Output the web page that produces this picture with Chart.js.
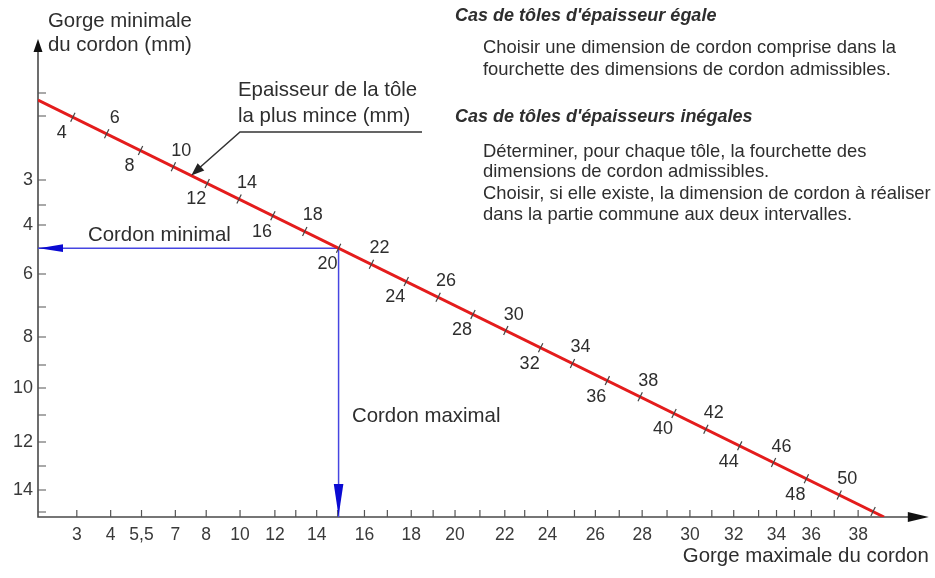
<!DOCTYPE html>
<html lang="fr">
<head>
<meta charset="UTF-8">
<title>Dimension des cordons de soudure</title>
<script src="https://cdn.jsdelivr.net/npm/chart.js@4"></script>
<style>
  html, body { margin: 0; padding: 0; background: #fff; }
  #cadre { width: 935px; height: 578px; }
</style>
</head>
<body>
<div id="cadre"><canvas id="abaque"></canvas></div>
<script>
// Graduations de l'axe horizontal (gorge maximale) : position et libellé
const gorgeMaxPos = [39, 73, 104, 138, 169, 203, 238, 259, 280, 301, 328, 351, 375, 397, 419, 444, 469, 489, 512, 539, 560, 584, 607, 632, 655, 677, 699, 724, 742, 760, 777, 800, 824];
const gorgeMaxLabels = ["3", "4", "5,5", "7", "8", "10", "12", "", "14", "", "16", "", "18", "", "20", "", "22", "", "24", "", "26", "", "28", "", "30", "", "32", "", "34", "", "36", "", "38"];

// Graduations de l'axe vertical (gorge minimale)
const gorgeMinPos = [424, 401, 337, 312, 292, 269, 243, 210, 180, 152, 129, 102, 75, 51, 27, 5];
const gorgeMinLabels = ["", "", "3", "", "4", "", "6", "", "8", "", "10", "", "12", "", "14", ""];

// Échelle des épaisseurs de tôle portée sur la droite
const epaisseurs = [4, 6, 8, 10, 12, 14, 16, 18, 20, 22, 24, 26, 28, 30, 32, 34, 36, 38, 40, 42, 44, 46, 48, 50, 52];
const epaisseurPos = [35, 69, 103, 136, 170, 202, 236, 268, 302, 335, 370, 402, 437, 470, 505, 537, 572, 605, 639, 671, 705, 739, 772, 805, 839];
const epaisseurLabels = ["4", "6", "8", "10", "12", "14", "16", "18", "20", "22", "24", "26", "28", "30", "32", "34", "36", "38", "40", "42", "44", "46", "48", "50", ""];

// Extrémités de la droite des épaisseurs
const droite = [{x: 0, y: 417}, {x: 850, y: 0}];

// Épaisseur prise en exemple (tracé bleu)
const epaisseurExemple = 20;

function surDroite(x) {
  const [a, b] = droite;
  return a.y + (b.y - a.y) * (x - a.x) / (b.x - a.x);
}

const pointsEpaisseur = epaisseurPos.map((x, i) => ({x: x, y: surDroite(x)}));
const exemple = pointsEpaisseur[epaisseurs.indexOf(epaisseurExemple)];

const TEXTE = '#2e2e2e';
const BLEU = 'rgb(70, 70, 225)';
const POLICE = '"Liberation Sans", Arial, sans-serif';

function fleche(ctx, fx, fy, tx, ty, long, demi, couleur) {
  const ang = Math.atan2(ty - fy, tx - fx);
  ctx.save();
  ctx.translate(tx, ty);
  ctx.rotate(ang);
  ctx.fillStyle = couleur;
  ctx.beginPath();
  ctx.moveTo(0, 0);
  ctx.lineTo(-long, -demi);
  ctx.lineTo(-long, demi);
  ctx.closePath();
  ctx.fill();
  ctx.restore();
}

const habillage = {
  id: 'habillage',
  beforeDatasetsDraw(chart) {
    const {ctx, chartArea, scales: {x, y}} = chart;
    const x0 = x.getPixelForValue(0), y0 = y.getPixelForValue(0);
    ctx.save();
    ctx.strokeStyle = '#4a4a4a';
    ctx.lineWidth = 1.6;
    ctx.beginPath();
    ctx.moveTo(x0, y0 + 0.8);
    ctx.lineTo(x0, chartArea.top + 12);
    ctx.moveTo(x0 - 0.8, y0);
    ctx.lineTo(chartArea.right - 18, y0);
    ctx.stroke();
    fleche(ctx, x0, y0, x0, chartArea.top + 2, 13, 4.5, '#111');
    fleche(ctx, x0, y0, chartArea.right, y0, 21, 5, '#111');

    ctx.lineWidth = 1.2;
    ctx.strokeStyle = '#555';
    ctx.beginPath();
    gorgeMaxPos.forEach(v => {
      const px = x.getPixelForValue(v);
      ctx.moveTo(px, y0);
      ctx.lineTo(px, y0 - 7);
    });
    gorgeMinPos.forEach(v => {
      const py = y.getPixelForValue(v);
      ctx.moveTo(x0, py);
      ctx.lineTo(x0 + 8, py);
    });
    ctx.stroke();
    ctx.restore();
  },
  afterDatasetsDraw(chart) {
    const {ctx, scales: {x, y}} = chart;
    const ex = x.getPixelForValue(exemple.x), ey = y.getPixelForValue(exemple.y);
    // pointes des flèches bleues
    fleche(ctx, ex, ey, x.getPixelForValue(0) + 1, ey, 24, 3.8, 'rgb(10, 10, 210)');
    fleche(ctx, ex, ey, ex, y.getPixelForValue(0) - 1, 32, 4.8, 'rgb(10, 10, 210)');

    ctx.save();
    ctx.fillStyle = TEXTE;
    ctx.textBaseline = 'middle';

    // cotes des épaisseurs, alternées de part et d'autre de la droite
    ctx.font = '18px ' + POLICE;
    ctx.textAlign = 'center';
    pointsEpaisseur.forEach((p, i) => {
      const lab = epaisseurLabels[i];
      if (!lab) return;
      const px = x.getPixelForValue(p.x), py = y.getPixelForValue(p.y);
      if (epaisseurs[i] % 4 === 0) ctx.fillText(lab, px - 11, py + 16);
      else ctx.fillText(lab, px + 8, py - 16);
    });

    ctx.textAlign = 'left';
    ctx.font = '20.4px ' + POLICE;
    ctx.fillText('Gorge minimale', 48, 21);
    ctx.fillText('du cordon (mm)', 48, 45);
    ctx.fillText('Epaisseur de la tôle', 238, 90);
    ctx.fillText('la plus mince (mm)', 238, 116);
    ctx.fillText('Cordon minimal', 88, 235);
    ctx.fillText('Cordon maximal', 352, 416);

    // renvoi vers la droite des épaisseurs
    const tipX = x.getPixelForValue(154), tipY = y.getPixelForValue(surDroite(154));
    ctx.strokeStyle = '#333';
    ctx.lineWidth = 1.5;
    ctx.beginPath();
    ctx.moveTo(422, 132);
    ctx.lineTo(240, 132);
    ctx.lineTo(tipX + 4, tipY - 4);
    ctx.stroke();
    fleche(ctx, 240, 132, tipX, tipY, 13, 5, '#222');

    ctx.font = 'italic bold 18px ' + POLICE;
    ctx.fillText("Cas de tôles d'épaisseur égale", 455, 16);
    ctx.fillText("Cas de tôles d'épaisseurs inégales", 455, 117);
    ctx.font = '18.4px ' + POLICE;
    ctx.fillText('Choisir une dimension de cordon comprise dans la', 483, 48);
    ctx.fillText('fourchette des dimensions de cordon admissibles.', 483, 70);
    ctx.fillText('Déterminer, pour chaque tôle, la fourchette des', 483, 152);
    ctx.fillText('dimensions de cordon admissibles.', 483, 172);
    ctx.fillText('Choisir, si elle existe, la dimension de cordon à réaliser', 483, 194);
    ctx.fillText('dans la partie commune aux deux intervalles.', 483, 215);
    ctx.restore();
  }
};

new Chart(document.getElementById('abaque'), {
  type: 'scatter',
  data: {
    datasets: [
      {
        // traits de graduation des épaisseurs
        data: pointsEpaisseur,
        pointStyle: 'line',
        rotation: -64,
        pointRadius: 5,
        borderColor: '#444',
        borderWidth: 1.2,
        showLine: false
      },
      {
        data: droite,
        showLine: true,
        borderColor: 'rgb(228, 28, 28)',
        borderWidth: 3,
        pointRadius: 0
      },
      {
        data: [exemple, {x: 0, y: exemple.y}],
        showLine: true,
        borderColor: BLEU,
        borderWidth: 1.5,
        pointRadius: 0
      },
      {
        data: [exemple, {x: exemple.x, y: 0}],
        showLine: true,
        borderColor: BLEU,
        borderWidth: 1.5,
        pointRadius: 0
      }
    ]
  },
  options: {
    responsive: true,
    maintainAspectRatio: false,
    devicePixelRatio: 1,
    animation: false,
    layout: { padding: { left: 0, right: 2, top: 37, bottom: 0 } },
    plugins: { legend: { display: false }, tooltip: { enabled: false } },
    scales: {
      x: {
        type: 'linear',
        min: 0,
        max: 895,
        afterBuildTicks: s => { s.ticks = gorgeMaxPos.map(v => ({value: v})); },
        afterFit: s => { s.height = 61; },
        grid: { display: false, drawTicks: false },
        border: { display: false },
        ticks: {
          autoSkip: false,
          maxRotation: 0,
          padding: 8,
          color: '#3a3a3a',
          font: { family: POLICE, size: 17.5 },
          callback: v => gorgeMaxLabels[gorgeMaxPos.indexOf(v)]
        },
        title: {
          display: true,
          text: 'Gorge maximale du cordon',
          align: 'end',
          color: TEXTE,
          font: { family: POLICE, size: 20.4 },
          padding: { top: 0, bottom: 9 }
        }
      },
      y: {
        type: 'linear',
        min: 0,
        max: 480,
        afterBuildTicks: s => { s.ticks = gorgeMinPos.map(v => ({value: v})); },
        afterFit: s => { s.width = 38; },
        grid: { display: false, drawTicks: false },
        border: { display: false },
        ticks: {
          autoSkip: false,
          padding: 5,
          color: '#3a3a3a',
          font: { family: POLICE, size: 18 },
          callback: v => gorgeMinLabels[gorgeMinPos.indexOf(v)]
        }
      }
    }
  },
  plugins: [habillage]
});
</script>
</body>
</html>
